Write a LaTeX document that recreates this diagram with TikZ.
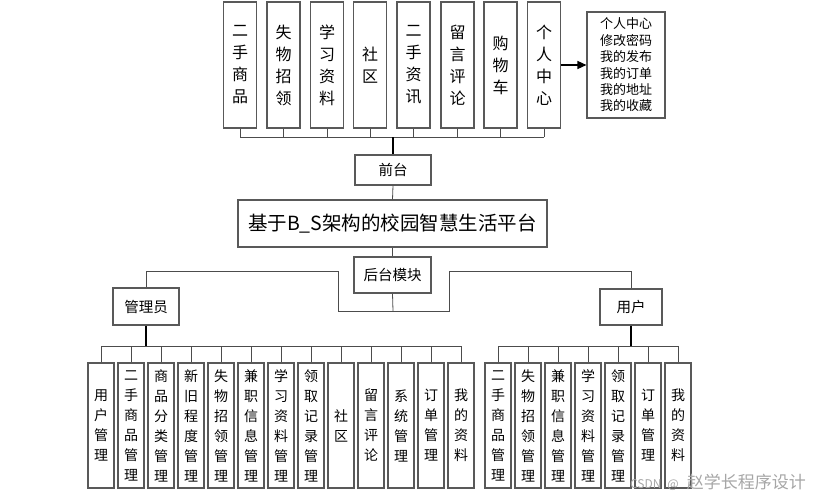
\documentclass[tikz,border=0pt]{standalone}
\usepackage{fontspec}
\setmainfont{Liberation Serif}
\newfontfamily\cjk{Noto Sans CJK SC}
\usetikzlibrary{arrows.meta}
\begin{document}
\begin{tikzpicture}[x=1pt,y=-1pt,
  box/.style={draw=black!65,line width=1.1pt,inner sep=0pt,font=\cjk},
  topbox/.style={box,minimum width=33pt,minimum height=126pt,align=center,font=\cjk\fontsize{16}{22}\selectfont},
  botbox/.style={box,minimum width=26pt,minimum height=125pt,align=center,font=\cjk\fontsize{14}{20}\selectfont},
  conn/.style={draw=black!70,line width=0.8pt},
  trunk/.style={draw=black,line width=1.8pt}]
\useasboundingbox (0,0) rectangle (819,499);
% top boxes
\node[topbox] (t1) at (240,65) {二\\手\\商\\品};
\node[topbox] (t2) at (283.5,65) {失\\物\\招\\领};
\node[topbox] (t3) at (327,65) {学\\习\\资\\料};
\node[topbox] (t4) at (370,65) {社\\区};
\node[topbox] (t5) at (413.5,65) {二\\手\\资\\讯};
\node[topbox] (t6) at (457.5,65) {留\\言\\评\\论};
\node[topbox] (t7) at (500.5,65) {购\\物\\车};
\node[topbox] (t8) at (544,65) {个\\人\\中\\心};
\node[box,minimum width=78pt,minimum height=106pt,align=left,font=\cjk\fontsize{13}{16.4}\selectfont] (pc) at (626,65) {个人中心\\修改密码\\我的发布\\我的订单\\我的地址\\我的收藏};
\draw[line width=1.3pt,-{Triangle[length=9pt,width=8pt]}] (t8.east) -- (pc.west);
% middle
\node[box,minimum width=76pt,minimum height=30pt,font=\cjk\fontsize{14.5}{16}\selectfont] (qt) at (393,170) {前台};
\node[box,minimum width=309pt,minimum height=47pt,font=\cjk\fontsize{19.5}{22}\selectfont] (title) at (392.5,223.5) {基于B\_S架构的校园智慧生活平台};
\node[box,minimum width=77pt,minimum height=36pt,font=\cjk\fontsize{14.5}{16}\selectfont] (ht) at (392.5,275) {后台模块};
\node[box,minimum width=66pt,minimum height=37pt,font=\cjk\fontsize{14.5}{16}\selectfont] (gly) at (146,306.5) {管理员};
\node[box,minimum width=62pt,minimum height=36pt,font=\cjk\fontsize{14.5}{16}\selectfont] (yh) at (631,307) {用户};
% top bus
\coordinate (tb) at (393,137);
\foreach \i in {1,...,8} {\draw[conn] (t\i.south) -- (t\i.south |- tb);}
\draw[conn] (t1.south |- tb) -- (t8.south |- tb);
\draw[trunk] (tb) -- (qt.north);
\draw[conn] (qt.south) -- (title.north);
\draw[conn] (title.south) -- (ht.north);
% back-end branches
\coordinate (hb) at (393,311);
\coordinate (hl) at (338,271);
\coordinate (hr) at (449,271);
\draw[conn] (ht.south) -- (hb);
\draw[conn] (hb) -| (hl) -| (gly.north);
\draw[conn] (hb) -| (hr) -| (yh.north);
% bottom boxes left
\foreach \t [count=\i] in {用\\户\\管\\理, 二\\手\\商\\品\\管\\理, 商\\品\\分\\类\\管\\理, 新\\旧\\程\\度\\管\\理, 失\\物\\招\\领\\管\\理, 兼\\职\\信\\息\\管\\理, 学\\习\\资\\料\\管\\理, 领\\取\\记\\录\\管\\理, 社\\区, 留\\言\\评\\论, 系\\统\\管\\理, 订\\单\\管\\理, 我\\的\\资\\料}
  {\node[botbox] (a\i) at ({71+30*\i},425.5) {\t};}
\foreach \t [count=\i] in {二\\手\\商\\品\\管\\理, 失\\物\\招\\领\\管\\理, 兼\\职\\信\\息\\管\\理, 学\\习\\资\\料\\管\\理, 领\\取\\记\\录\\管\\理, 订\\单\\管\\理, 我\\的\\资\\料}
  {\node[botbox] (u\i) at ({468+30*\i},425.5) {\t};}
\coordinate (lb) at (146,346);
\coordinate (rb) at (631,346);
\draw[trunk] (gly.south) -- (lb);
\draw[trunk] (yh.south) -- (rb);
\foreach \i in {1,...,13} {\draw[conn] (a\i.north) -- (a\i.north |- lb);}
\draw[conn] (a1.north |- lb) -- (a13.north |- lb);
\foreach \i in {1,...,7} {\draw[conn] (u\i.north) -- (u\i.north |- rb);}
\draw[conn] (u1.north |- rb) -- (u7.north |- rb);
% watermark
\node[anchor=east,text=black!35,inner sep=0pt,font=\cjk\fontsize{17}{18}\selectfont] (wm) at (806,482) {{\fontsize{12}{12}\selectfont CSDN\hspace{6pt}@\hspace{8pt}}赵学长程序设计};
\end{tikzpicture}
\end{document}
